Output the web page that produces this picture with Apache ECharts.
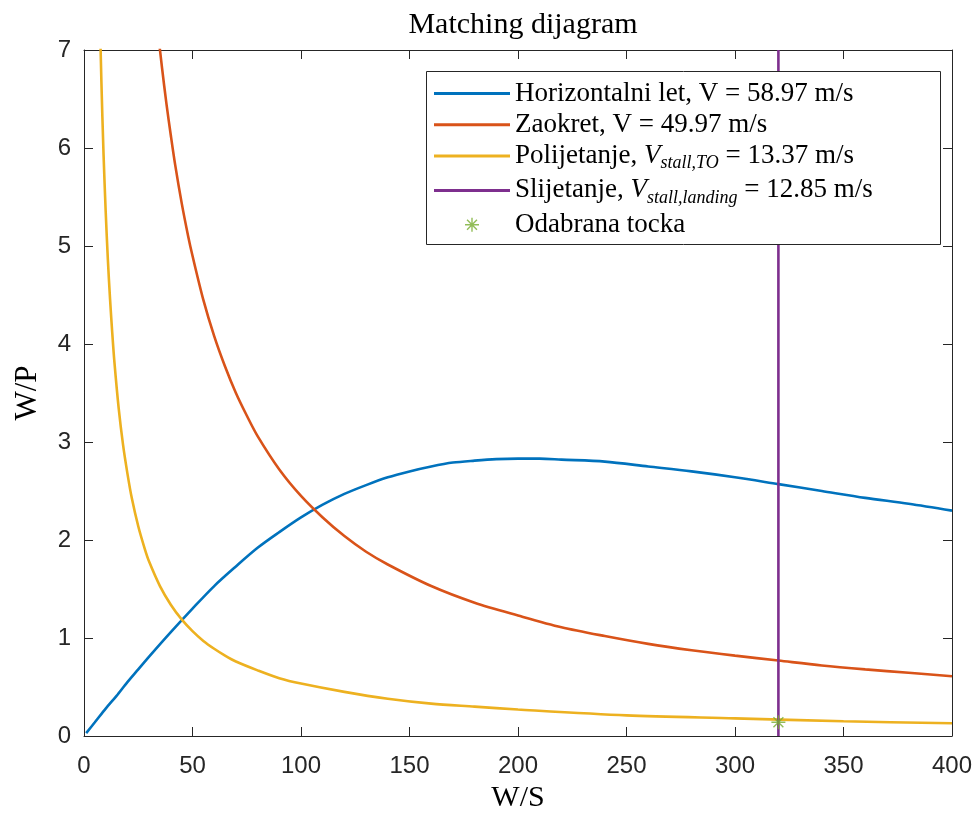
<!DOCTYPE html>
<html>
<head>
<meta charset="utf-8">
<script src="https://cdn.jsdelivr.net/npm/echarts@6/dist/echarts.min.js"></script>
<style>html,body{margin:0;padding:0;background:#fff;}#c{width:974px;height:817px;}</style>
</head>
<body>
<div id="c"></div>
<script>
// ---- data ----
const xTicks = [0, 50, 100, 150, 200, 250, 300, 350, 400];
const yTicks = [0, 1, 2, 3, 4, 5, 6, 7];

const horizX = [1, 5, 10, 15, 20, 25, 30, 40, 50, 60, 70, 80, 90, 100, 110, 120, 130, 140, 150, 160, 170, 180, 190, 200, 210, 220, 240, 260, 280, 300, 320, 340, 360, 380, 400];
const horizY = [0.03, 0.14, 0.28, 0.41, 0.55, 0.68, 0.81, 1.06, 1.30, 1.53, 1.73, 1.92, 2.08, 2.23, 2.36, 2.47, 2.56, 2.64, 2.70, 2.75, 2.79, 2.81, 2.825, 2.83, 2.83, 2.82, 2.80, 2.75, 2.70, 2.64, 2.57, 2.50, 2.43, 2.37, 2.30];

const turnX = [34, 36, 38, 40, 42, 45, 48, 50, 55, 60, 65, 70, 75, 80, 90, 100, 110, 120, 130, 140, 160, 180, 200, 220, 240, 260, 280, 300, 320, 340, 360, 380, 400];
const turnY = [7.2, 6.81, 6.45, 6.13, 5.83, 5.44, 5.10, 4.90, 4.45, 4.08, 3.77, 3.50, 3.27, 3.06, 2.72, 2.45, 2.23, 2.04, 1.88, 1.75, 1.53, 1.36, 1.23, 1.11, 1.02, 0.94, 0.875, 0.82, 0.77, 0.72, 0.68, 0.645, 0.61];

const toX = [7, 8, 9, 10, 11, 12, 13, 14, 16, 18, 20, 22, 25, 28, 30, 35, 40, 45, 50, 55, 60, 65, 70, 80, 90, 100, 120, 140, 160, 180, 200, 250, 300, 350, 400];
const toY = [7.64, 6.69, 5.94, 5.35, 4.86, 4.46, 4.12, 3.82, 3.34, 2.97, 2.68, 2.43, 2.14, 1.91, 1.78, 1.53, 1.34, 1.19, 1.07, 0.97, 0.89, 0.82, 0.76, 0.67, 0.59, 0.535, 0.45, 0.38, 0.33, 0.30, 0.27, 0.21, 0.18, 0.15, 0.13];

const landX = [320, 320];
const landY = [0, 7];

const pointX = [320];
const pointY = [0.14];

const names = [
  'Horizontalni let, V = 58.97 m/s',
  'Zaokret, V = 49.97 m/s',
  'Polijetanje TO',
  'Slijetanje landing',
  'Odabrana tocka'
];
const legendRich = {
  'Horizontalni let, V = 58.97 m/s': '{t|Horizontalni let, V = 58.97 m/s}',
  'Zaokret, V = 49.97 m/s': '{t|Zaokret, V = 49.97 m/s}',
  'Polijetanje TO': '{t|Polijetanje, }{v|V}{s|stall,TO}{t| = 13.37 m/s}',
  'Slijetanje landing': '{t|Slijetanje, }{v|V}{s|stall,landing}{t| = 12.85 m/s}',
  'Odabrana tocka': '{t|Odabrana tocka}'
};

const zip = (xs, ys) => xs.map((x, i) => [x, ys[i]]);

const axisColor = '#262626';
const serif = '"Liberation Serif", "DejaVu Serif", serif';
const sans = '"Liberation Sans", Arial, sans-serif';

const starPath = 'path://M-1,-10 L1,-10 L1,10 L-1,10 Z M-10,-1 L10,-1 L10,1 L-10,1 Z M-6.36,-7.78 L7.78,6.36 L6.36,7.78 L-7.78,-6.36 Z M-7.78,6.36 L6.36,-7.78 L7.78,-6.36 L-6.36,7.78 Z';
const lineIcon = 'path://M0,0 L0.01,0 L0,0.01 Z M76,14 L75.99,14 L76,13.99 Z M0,5.5 L76,5.5 L76,8.5 L0,8.5 Z';

const chart = echarts.init(document.getElementById('c'), null, {renderer: 'canvas'});
const baseAxis = {
  type: 'value',
  axisLine: {show: true, onZero: false, lineStyle: {color: axisColor, width: 1}},
  axisTick: {show: true, inside: true, length: 9, lineStyle: {color: axisColor, width: 1}},
  splitLine: {show: false}
};
chart.setOption({
  animation: false,
  backgroundColor: '#fff',
  title: {
    text: 'Matching dijagram',
    left: 518, top: 5, textAlign: 'center',
    textStyle: {fontFamily: serif, fontSize: 30, fontWeight: 'normal', color: '#000'}
  },
  grid: {left: 84, right: 22, top: 50, bottom: 81, containLabel: false, outerBoundsMode: 'none'},
  xAxis: [
    Object.assign({}, baseAxis, {
      position: 'bottom', min: xTicks[0], max: xTicks[xTicks.length - 1], interval: 50,
      axisLabel: {show: true, margin: 18, color: axisColor, fontFamily: sans, fontSize: 24},
      name: 'W/S', nameLocation: 'middle', nameGap: 47,
      nameTextStyle: {fontFamily: serif, fontSize: 30, color: '#000'}
    }),
    Object.assign({}, baseAxis, {
      position: 'top', min: xTicks[0], max: xTicks[xTicks.length - 1], interval: 50,
      axisLabel: {show: false}
    })
  ],
  yAxis: [
    Object.assign({}, baseAxis, {
      position: 'left', min: yTicks[0], max: yTicks[yTicks.length - 1], interval: 1,
      axisLabel: {show: true, margin: 13, color: axisColor, fontFamily: sans, fontSize: 24},
      name: 'W/P', nameLocation: 'middle', nameGap: 41,
      nameTextStyle: {fontFamily: serif, fontSize: 31, color: '#000'}
    }),
    Object.assign({}, baseAxis, {
      position: 'right', min: yTicks[0], max: yTicks[yTicks.length - 1], interval: 1,
      axisLabel: {show: false}
    })
  ],
  legend: {
    orient: 'vertical',
    left: 426, top: 71,
    padding: [9, 10, 4, 8],
    z: 10,
    itemWidth: 76, itemHeight: 14, itemGap: 4.3, itemTextGap: 16,
    data: [
      {name: names[0], icon: lineIcon},
      {name: names[1], icon: lineIcon},
      {name: names[2], icon: lineIcon},
      {name: names[3], icon: lineIcon},
      {name: names[4]}
    ],
    formatter: n => legendRich[n],
    textStyle: {
      fontFamily: serif, fontSize: 27, color: '#000',
      rich: {
        t: {fontFamily: serif, fontSize: 27, lineHeight: 33, verticalAlign: 'middle', color: '#000'},
        v: {fontFamily: serif, fontSize: 27, fontStyle: 'italic', lineHeight: 33, verticalAlign: 'middle', color: '#000'},
        s: {fontFamily: serif, fontSize: 18, fontStyle: 'italic', lineHeight: 18, verticalAlign: 'bottom', color: '#000'}
      }
    }
  },
  graphic: [{
    type: 'rect', left: 426, top: 71, z: 5,
    shape: {width: 514, height: 173},
    style: {fill: '#fff', stroke: axisColor, lineWidth: 1}
  }],
  series: [
    {name: names[0], type: 'line', data: zip(horizX, horizY), smooth: 0.3, symbol: 'none', lineStyle: {color: '#0072BD', width: 2.6}, itemStyle: {color: '#0072BD'}, clip: true},
    {name: names[1], type: 'line', data: zip(turnX, turnY), smooth: 0.3, symbol: 'none', lineStyle: {color: '#D95319', width: 2.6}, itemStyle: {color: '#D95319'}, clip: true},
    {name: names[2], type: 'line', data: zip(toX, toY), smooth: 0.3, symbol: 'none', lineStyle: {color: '#EDB120', width: 2.6}, itemStyle: {color: '#EDB120'}, clip: true},
    {name: names[3], type: 'line', data: zip(landX, landY), symbol: 'none', lineStyle: {color: '#7E2F8E', width: 2.6}, itemStyle: {color: '#7E2F8E'}, clip: true},
    {name: names[4], type: 'scatter', data: zip(pointX, pointY), symbol: starPath, symbolSize: 14, itemStyle: {color: '#77AC30'}, z: 4}
  ]
});
</script>
</body>
</html>
